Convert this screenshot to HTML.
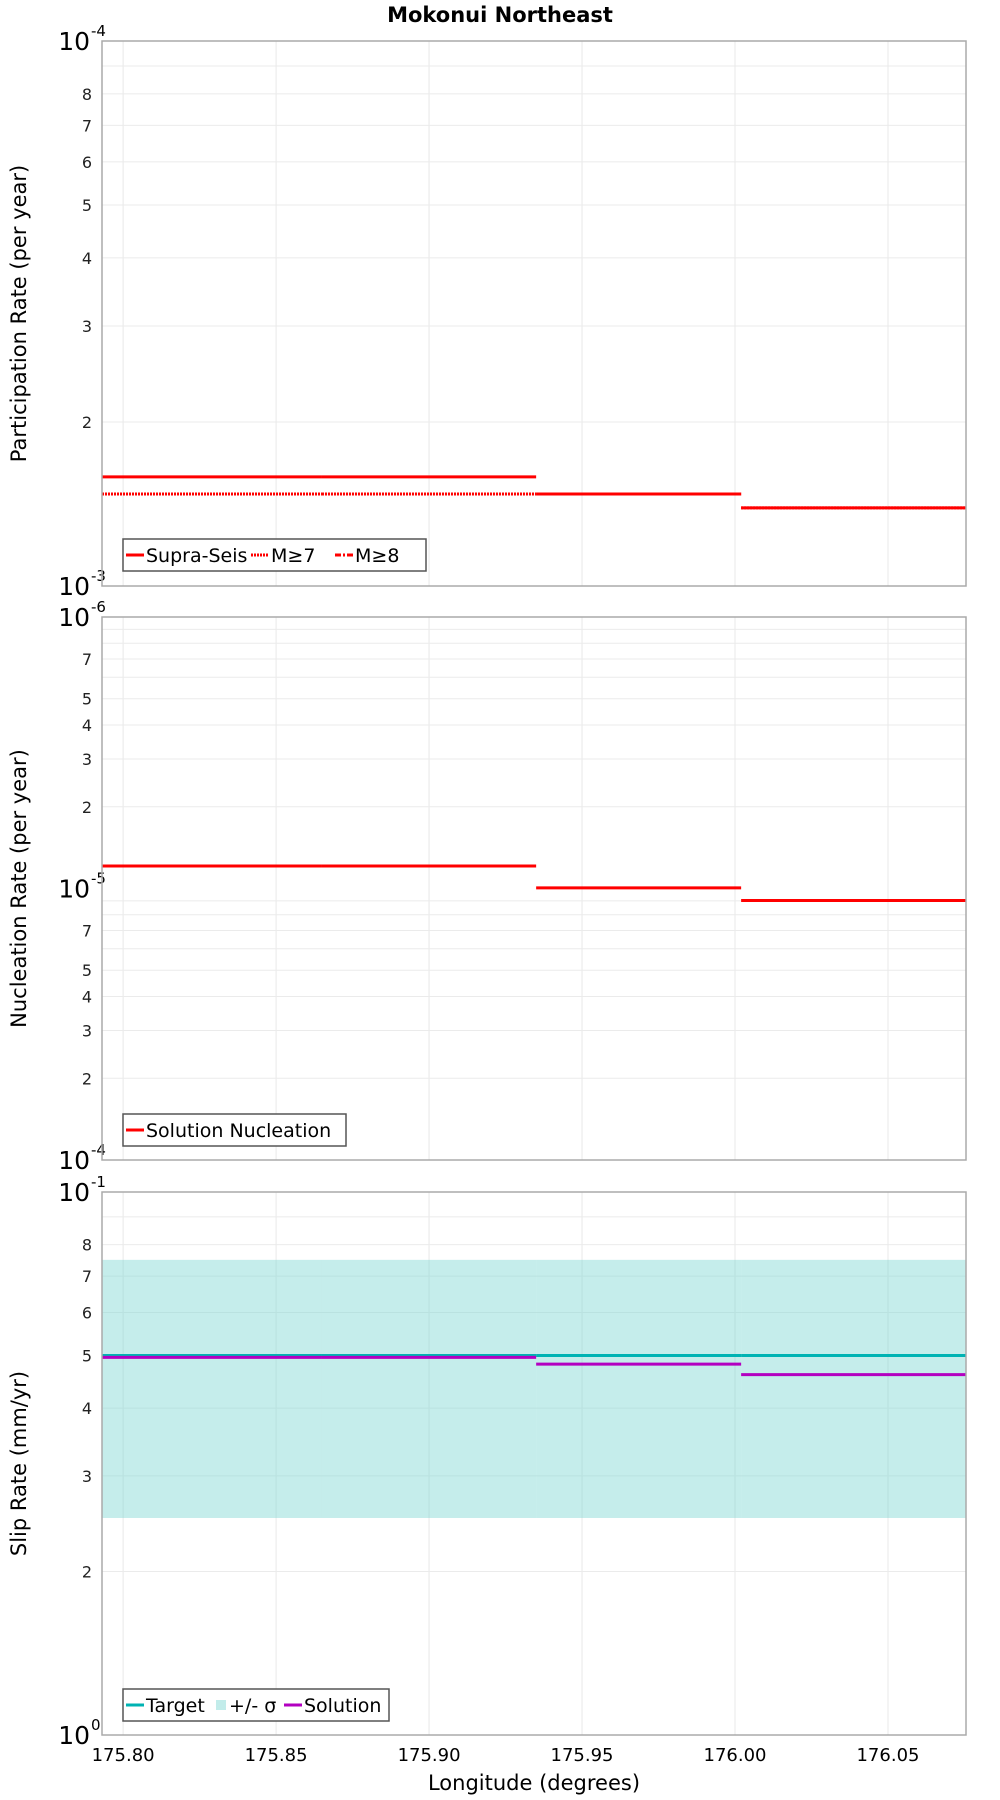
<!DOCTYPE html>
<html><head><meta charset="utf-8"><style>
body{margin:0;background:#fff}
svg{display:block;font-family:"DejaVu Sans","Liberation Sans",sans-serif}
</style></head><body>
<svg id="c" width="1000" height="1800" xmlns="http://www.w3.org/2000/svg"></svg>
<script>
// data
const xTicks=[175.80,175.85,175.90,175.95,176.00,176.05];
const xTickLabels=["175.80","175.85","175.90","175.95","176.00","176.05"];
const segStart=[175.7931,175.865,175.935,176.002];
const segEnd=[175.865,175.935,176.002,176.0755];
const supraSeis=[1.586e-4,1.586e-4,1.475e-4,1.391e-4];
const m7=[1.475e-4,1.475e-4,1.475e-4,1.391e-4];
const nucleation=[1.21e-5,1.21e-5,1.005e-5,9.03e-6];
const targetSlip=[0.5,0.5,0.5,0.5];
const sigmaLow=[0.251,0.251,0.251,0.251];
const sigmaHigh=[0.75,0.75,0.75,0.75];
const solutionSlip=[0.496,0.496,0.482,0.461];

const NS="http://www.w3.org/2000/svg";
const svg=document.getElementById('c');
function el(t,a,p){const e=document.createElementNS(NS,t);for(const k in a)e.setAttribute(k,a[k]);(p||svg).appendChild(e);return e;}
const X0=102,X1=966,XMIN=175.7931,XMAX=176.0755;
const xs=v=>X0+(v-XMIN)/(XMAX-XMIN)*(X1-X0);

const t=el('text',{x:500,y:22,'text-anchor':'middle','font-size':21,'font-weight':'bold'});


t.textContent='Mokonui Northeast';

function panel(name,top,bot,lo,hi,exps,minorLabels,ylabel){
  const g=el('g',{});
  
  
  const ys=v=>bot-(Math.log10(v)-lo)/(hi-lo)*(bot-top);
  el('rect',{x:X0,y:top,width:X1-X0,height:bot-top,fill:'#fff'},g);
  for(const v of xTicks){el('line',{x1:xs(v),x2:xs(v),y1:top,y2:bot,stroke:'#e8e8e8','stroke-width':1},g);}
  for(let d=lo;d<hi;d++){for(let m=2;m<=9;m++){const v=m*Math.pow(10,d);const y=ys(v);
    el('line',{x1:X0,x2:X1,y1:y,y2:y,stroke:'#ebebeb','stroke-width':1},g);
    if(minorLabels.includes(m)){const tx=el('text',{x:X0-10,y:y+6,'text-anchor':'end','font-size':16,fill:'#222'},g);tx.textContent=m;}
  }}
  for(let i=0;i<exps.length;i++){const d=lo+i*(hi-lo)/(exps.length-1);const y=ys(Math.pow(10,d));
    const tx=el('text',{x:90,y:y+9,'text-anchor':'end','font-size':25},g);tx.textContent='10';
    const sp=el('text',{x:91,y:y-5,'font-size':15},g);sp.textContent=exps[i];}
  const yl=el('text',{x:0,y:0,'text-anchor':'middle','font-size':21,transform:`translate(26,${(top+bot)/2}) rotate(-90)`},g);
  
  
  yl.textContent=ylabel;
  return {g,ys};
}
function border(g,top,bot){el('rect',{x:X0,y:top,width:X1-X0,height:bot-top,fill:'none',stroke:'#aaa','stroke-width':1.5},g);}
function segs(g,ys,arr,color,w,dash,nm){
  for(let i=0;i<arr.length;i++){const y=ys(arr[i]);
    const l=el('line',{x1:xs(segStart[i]),x2:xs(segEnd[i]),y1:y,y2:y,stroke:color,'stroke-width':w},g);
    if(dash)l.setAttribute('stroke-dasharray',dash);
    
    }
}
function legend(g,x,y,w,h,items){
  const lg=el('g',{},g);
  
  
  el('rect',{x:x,y:y,width:w,height:h,fill:'#fff',stroke:'#555','stroke-width':1.5},lg);
  let cx=x+3;
  for(const it of items){
    if(it.box){el('rect',{x:cx,y:y+h/2-5,width:10,height:10,fill:it.color},lg);cx+=13;}
    else{const l=el('line',{x1:cx,x2:cx+18,y1:y+h/2,y2:y+h/2,stroke:it.color,'stroke-width':3},lg);if(it.dash)l.setAttribute('stroke-dasharray',it.dash);cx+=20;}
    const tx=el('text',{x:cx,y:y+h/2+7,'font-size':19},lg);tx.textContent=it.label;
    
    
    cx+=it.w;
  }
}

// Panel 1
let p=panel('participation-panel',41,586,-4,-3,['-3','-4'],[2,3,4,5,6,7,8],'Participation Rate (per year)');
segs(p.g,p.ys,m7,'#ff0000',3,'2,1','m7');
segs(p.g,p.ys,supraSeis,'#ff0000',3,null,'supra-seis');
border(p.g,41,586);
legend(p.g,123,539,303,32,[{label:'Supra-Seis',color:'#f00',w:105},{label:'M≥7',color:'#f00',dash:'2,1',w:64},{label:'M≥8',color:'#f00',dash:'6,2,2,2',w:50}]);

// Panel 2
p=panel('nucleation-panel',617,1160,-6,-4,['-4','-5','-6'],[2,3,4,5,7],'Nucleation Rate (per year)');
segs(p.g,p.ys,nucleation,'#ff0000',3,null,'nucleation');
border(p.g,617,1160);
legend(p.g,123,1114,223,32,[{label:'Solution Nucleation',color:'#f00',w:200}]);

// Panel 3
p=panel('slip-rate-panel',1192,1735,-1,0,['0','-1'],[2,3,4,5,6,7,8],'Slip Rate (mm/yr)');
for(let i=0;i<sigmaLow.length;i++){
  const r=el('rect',{x:xs(segStart[i]),y:p.ys(sigmaHigh[i]),width:xs(segEnd[i])-xs(segStart[i]),height:p.ys(sigmaLow[i])-p.ys(sigmaHigh[i]),fill:'#7fd6d3','fill-opacity':0.45},p.g);
  
  
}
segs(p.g,p.ys,targetSlip,'#00b3b3',3,null,'target');
segs(p.g,p.ys,solutionSlip,'#b300c0',3,null,'solution');
border(p.g,1192,1735);
legend(p.g,123,1689,266,32,[{label:'Target',color:'#00b3b3',w:70},{label:'+/- σ',color:'#c2ecea',box:true,w:55},{label:'Solution',color:'#b300c0',w:80}]);
for(let i=0;i<xTicks.length;i++){
  const tx=el('text',{x:xs(xTicks[i]),y:1761,'text-anchor':'middle','font-size':18});
  
  
  tx.textContent=xTickLabels[i];
}
const xl=el('text',{x:534,y:1790,'text-anchor':'middle','font-size':21});


xl.textContent='Longitude (degrees)';
</script>
</body></html>
